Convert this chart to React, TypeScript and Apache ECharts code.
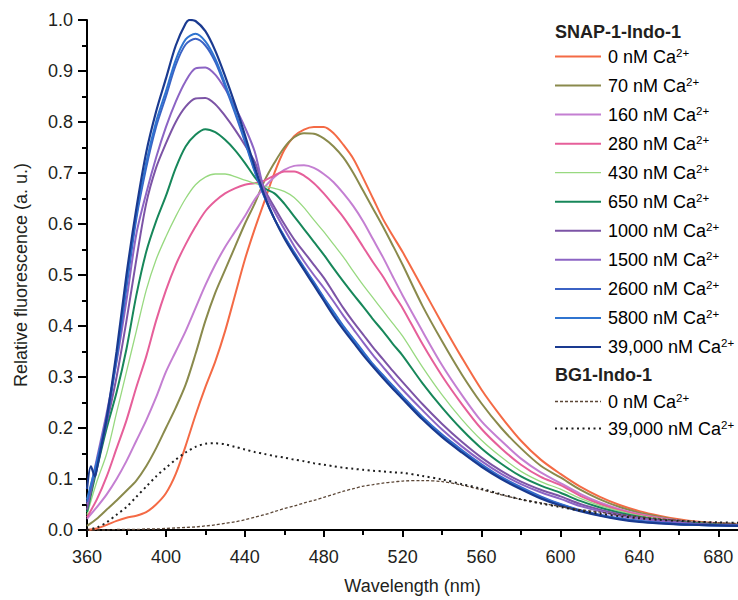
import React, { useEffect, useRef } from "react";
import * as echarts from "echarts";

// Wavelengths (nm) shared by all spectra
const WL = [
  360, 365, 370, 375, 380, 385, 390, 395, 400, 405,
  410, 415, 420, 425, 430, 435, 440, 445, 450, 455,
  460, 465, 470, 475, 480, 485, 490, 495, 500, 505,
  510, 515, 520,
  530, 540, 550, 560, 570, 580, 590, 600, 610, 620,
  630, 640, 650, 660, 670, 680, 690,
];

// SNAP-1-Indo-1 spectra (relative fluorescence)
const CA_0 = [
  0.0, 0.003, 0.01, 0.018, 0.024, 0.028, 0.035, 0.05, 0.072, 0.11,
  0.165, 0.225, 0.28, 0.33, 0.39, 0.46, 0.53, 0.59, 0.645, 0.7,
  0.745, 0.772, 0.785, 0.79, 0.79, 0.778, 0.755, 0.728, 0.69, 0.65,
  0.61, 0.577, 0.545,
  0.475, 0.405, 0.338, 0.275, 0.222, 0.175, 0.138, 0.11, 0.085, 0.065,
  0.049, 0.037, 0.028, 0.021, 0.016, 0.013, 0.011,
];
const CA_70 = [
  0.008, 0.022, 0.04, 0.058, 0.077, 0.097, 0.125, 0.16, 0.2, 0.24,
  0.285, 0.345, 0.41, 0.465, 0.51, 0.555, 0.6, 0.64, 0.685, 0.72,
  0.75, 0.77, 0.778, 0.777, 0.768, 0.752, 0.73, 0.7, 0.665, 0.63,
  0.595, 0.558, 0.52,
  0.44, 0.37, 0.305, 0.248, 0.2, 0.16, 0.126, 0.103, 0.079, 0.06,
  0.045, 0.034, 0.026, 0.019, 0.015, 0.012, 0.01,
];
const CA_160 = [
  0.022, 0.045, 0.07, 0.1, 0.135, 0.175, 0.215, 0.26, 0.31, 0.35,
  0.39, 0.435, 0.48, 0.52, 0.555, 0.585, 0.615, 0.648, 0.672, 0.692,
  0.706, 0.714, 0.715, 0.71, 0.698, 0.682, 0.66, 0.635, 0.605, 0.57,
  0.535, 0.497, 0.46,
  0.39, 0.323, 0.265, 0.213, 0.175, 0.14, 0.113, 0.092, 0.071, 0.054,
  0.041, 0.031, 0.024, 0.018, 0.014, 0.012, 0.01,
];
const CA_280 = [
  0.025, 0.06, 0.105, 0.16, 0.215, 0.28, 0.34, 0.41, 0.47, 0.52,
  0.56, 0.595, 0.625, 0.645, 0.66, 0.67, 0.677, 0.68, 0.685, 0.695,
  0.703, 0.703, 0.695, 0.68, 0.66, 0.637, 0.613, 0.585, 0.555, 0.525,
  0.497, 0.465, 0.435,
  0.365, 0.302, 0.247, 0.198, 0.16, 0.128, 0.104, 0.088, 0.067, 0.051,
  0.039, 0.03, 0.023, 0.018, 0.014, 0.011, 0.01,
];
const CA_430 = [
  0.03, 0.095, 0.15, 0.23, 0.31, 0.39, 0.47, 0.53, 0.575, 0.615,
  0.65, 0.677, 0.692, 0.698, 0.698, 0.693, 0.686, 0.68, 0.674, 0.67,
  0.664, 0.652, 0.632, 0.608, 0.585, 0.56, 0.535, 0.507, 0.48, 0.455,
  0.43, 0.405, 0.38,
  0.32, 0.265, 0.217, 0.176, 0.143, 0.115, 0.095, 0.08, 0.062, 0.048,
  0.037, 0.028, 0.022, 0.017, 0.014, 0.011, 0.01,
];
const CA_650 = [
  0.035, 0.12, 0.2, 0.27, 0.355, 0.46, 0.545, 0.605, 0.655, 0.71,
  0.752, 0.775, 0.786, 0.78, 0.765, 0.745, 0.72, 0.692, 0.67, 0.66,
  0.64, 0.615, 0.59, 0.565, 0.54, 0.513, 0.487, 0.462, 0.438, 0.413,
  0.39, 0.365, 0.342,
  0.288, 0.24, 0.197, 0.16, 0.13, 0.105, 0.087, 0.073, 0.057, 0.044,
  0.034, 0.026, 0.02, 0.016, 0.013, 0.011, 0.01,
];
const CA_1000 = [
  0.04, 0.13, 0.21, 0.3, 0.41, 0.53, 0.64, 0.71, 0.758, 0.8,
  0.83, 0.846, 0.847, 0.835, 0.812, 0.785, 0.755, 0.722, 0.668, 0.633,
  0.6, 0.57, 0.545, 0.52, 0.495, 0.465, 0.435, 0.408, 0.383, 0.358,
  0.335, 0.312, 0.29,
  0.247, 0.208, 0.173, 0.142, 0.116, 0.095, 0.079, 0.066, 0.051, 0.04,
  0.031, 0.024, 0.019, 0.015, 0.012, 0.01, 0.009,
];
const CA_1500 = [
  0.05, 0.14, 0.23, 0.33, 0.45, 0.58, 0.66, 0.73, 0.79, 0.84,
  0.88, 0.905, 0.907, 0.893, 0.865, 0.83, 0.79, 0.742, 0.664, 0.625,
  0.59, 0.557, 0.527, 0.5, 0.475, 0.448, 0.42, 0.394, 0.368, 0.343,
  0.32, 0.297, 0.275,
  0.235, 0.197, 0.164, 0.135, 0.11, 0.09, 0.074, 0.061, 0.047, 0.037,
  0.028, 0.022, 0.017, 0.014, 0.011, 0.01, 0.009,
];
const CA_2600 = [
  0.055, 0.13, 0.215, 0.335, 0.475, 0.61, 0.71, 0.79, 0.85, 0.912,
  0.952, 0.963, 0.95, 0.918, 0.87, 0.818, 0.762, 0.703, 0.652, 0.61,
  0.576, 0.545, 0.515, 0.486, 0.456, 0.428, 0.4, 0.375, 0.35, 0.325,
  0.304, 0.283, 0.262,
  0.222, 0.187, 0.157, 0.129, 0.104, 0.084, 0.066, 0.051, 0.039, 0.03,
  0.023, 0.018, 0.014, 0.012, 0.01, 0.009, 0.009,
];
const CA_5800 = [
  0.06, 0.135, 0.22, 0.34, 0.485, 0.618, 0.72, 0.8, 0.86, 0.922,
  0.962, 0.973, 0.958, 0.924, 0.875, 0.822, 0.765, 0.705, 0.653, 0.61,
  0.575, 0.543, 0.513, 0.484, 0.454, 0.426, 0.398, 0.373, 0.348, 0.323,
  0.302, 0.281, 0.26,
  0.22, 0.185, 0.155, 0.127, 0.102, 0.082, 0.064, 0.05, 0.038, 0.029,
  0.022, 0.017, 0.014, 0.011, 0.01, 0.009, 0.008,
];
const CA_39000 = [
  0.08, 0.12, 0.22, 0.35, 0.5, 0.63, 0.74, 0.82, 0.885, 0.95,
  0.993, 0.998, 0.978, 0.94, 0.89, 0.835, 0.775, 0.712, 0.655, 0.61,
  0.572, 0.54, 0.51, 0.48, 0.45, 0.42, 0.393, 0.368, 0.343, 0.32,
  0.298, 0.277, 0.257,
  0.217, 0.182, 0.152, 0.124, 0.1, 0.08, 0.062, 0.048, 0.037, 0.028,
  0.021, 0.016, 0.013, 0.011, 0.01, 0.009, 0.008,
];
const CA_39000_EXTRA: [number, number][] = [
  [362, 0.125],
  [364, 0.105],
  [412, 1.0],
];

// BG1-Indo-1 spectra
const BG_0 = [
  0.0, 0.0, 0.0, 0.001, 0.001, 0.001, 0.002, 0.002, 0.003, 0.004,
  0.005, 0.006, 0.008, 0.01, 0.013, 0.016, 0.02, 0.025, 0.03, 0.036,
  0.042, 0.047, 0.053, 0.058, 0.064, 0.07, 0.076, 0.081, 0.086, 0.089,
  0.092, 0.094, 0.096,
  0.097, 0.095, 0.088, 0.079, 0.069, 0.06, 0.053, 0.046, 0.04, 0.035,
  0.03, 0.026, 0.022, 0.019, 0.016, 0.014, 0.013,
];
const BG_39000 = [
  0.0, 0.005, 0.015, 0.03, 0.045, 0.065, 0.085, 0.105, 0.122, 0.138,
  0.152, 0.163, 0.169, 0.17, 0.168, 0.163, 0.158, 0.153, 0.149, 0.145,
  0.142, 0.138, 0.135, 0.131, 0.128, 0.125, 0.122, 0.12, 0.118, 0.116,
  0.115, 0.113, 0.112,
  0.106, 0.099, 0.09, 0.081, 0.07, 0.06, 0.052, 0.045, 0.038, 0.032,
  0.027, 0.023, 0.02, 0.018, 0.016, 0.015, 0.014,
];

const SNAP_LABELS = [
  "0 nM", "70 nM", "160 nM", "280 nM", "430 nM", "650 nM",
  "1000 nM", "1500 nM", "2600 nM", "5800 nM", "39,000 nM",
];
const BG_LABELS = ["0 nM", "39,000 nM"];
const X_MAJOR = [360, 400, 440, 480, 520, 560, 600, 640, 680];
const X_MINOR = [380, 420, 460, 500, 540, 580, 620, 660];

const FONT = '"Liberation Sans", Arial, Helvetica, sans-serif';
const INK = "#231f20";

const SNAP_STYLE = [
  { color: "#f46a45", width: 2 },
  { color: "#8a8a4c", width: 2 },
  { color: "#c47fd2", width: 2 },
  { color: "#e65f9a", width: 2 },
  { color: "#98d980", width: 1.3 },
  { color: "#17875a", width: 2 },
  { color: "#7c54a6", width: 2 },
  { color: "#8c64c4", width: 2 },
  { color: "#3b62c4", width: 2 },
  { color: "#2f74d0", width: 2 },
  { color: "#1a3a90", width: 2.2 },
];
const BG_STYLE = [
  { color: "#5b4636", width: 1.3, dash: [3, 2] },
  { color: "#1e1e1e", width: 2, dash: [2, 3.5] },
];

function pairs(values: number[]): [number, number][] {
  return WL.map((w, i) => [w, values[i]] as [number, number]);
}

export default function App() {
  const ref = useRef<HTMLDivElement>(null);

  useEffect(() => {
    if (!ref.current) return;
    const chart = echarts.init(ref.current, null, { renderer: "svg" });

    const snapValues = [
      CA_0, CA_70, CA_160, CA_280, CA_430, CA_650,
      CA_1000, CA_1500, CA_2600, CA_5800, CA_39000,
    ];

    const series: any[] = [];
    snapValues.forEach((vals, i) => {
      let data = pairs(vals);
      if (i === snapValues.length - 1) {
        data = data.concat(CA_39000_EXTRA).sort((a, b) => a[0] - b[0]);
      }
      series.push({
        type: "line",
        name: "SNAP-1-Indo-1 " + SNAP_LABELS[i] + " Ca2+",
        data,
        showSymbol: false,
        symbol: "none",
        smooth: 0.3,
        lineStyle: { color: SNAP_STYLE[i].color, width: SNAP_STYLE[i].width },
        itemStyle: { color: SNAP_STYLE[i].color },
        z: 2 + i,
      });
    });
    [BG_0, BG_39000].forEach((vals, i) => {
      series.push({
        type: "line",
        name: "BG1-Indo-1 " + BG_LABELS[i] + " Ca2+",
        data: pairs(vals),
        showSymbol: false,
        symbol: "none",
        smooth: 0.3,
        lineStyle: {
          color: BG_STYLE[i].color,
          width: BG_STYLE[i].width,
          type: BG_STYLE[i].dash,
        },
        itemStyle: { color: BG_STYLE[i].color },
        z: 20,
      });
    });

    const rich = {
      a: { fontSize: 18, fontFamily: FONT, color: INK, lineHeight: 20 },
      s: { fontSize: 11.5, fontFamily: FONT, color: INK, lineHeight: 11, verticalAlign: "top" },
    };

    const legendEls: any[] = [];
    const lx1 = 555;
    const lx2 = 601;
    const tx = 608;
    legendEls.push({
      type: "text",
      x: lx1,
      y: 32,
      style: {
        text: "SNAP-1-Indo-1",
        fontSize: 18,
        fontWeight: "bold",
        fontFamily: FONT,
        fill: INK,
        verticalAlign: "middle",
      },
    });
    SNAP_LABELS.forEach((lab, i) => {
      const y = 56.5 + i * 29.05;
      legendEls.push({
        type: "line",
        shape: { x1: lx1, y1: y, x2: lx2, y2: y },
        style: { stroke: SNAP_STYLE[i].color, lineWidth: SNAP_STYLE[i].width },
      });
      legendEls.push({
        type: "text",
        x: tx,
        y,
        style: {
          text: `{a|${lab} Ca}{s|2+}`,
          rich,
          verticalAlign: "middle",
        },
      });
    });
    legendEls.push({
      type: "text",
      x: lx1,
      y: 375,
      style: {
        text: "BG1-Indo-1",
        fontSize: 18,
        fontWeight: "bold",
        fontFamily: FONT,
        fill: INK,
        verticalAlign: "middle",
      },
    });
    BG_LABELS.forEach((lab, i) => {
      const y = 401.5 + i * 27;
      legendEls.push({
        type: "line",
        shape: { x1: lx1, y1: y, x2: lx2, y2: y },
        style: {
          stroke: BG_STYLE[i].color,
          lineWidth: BG_STYLE[i].width,
          lineDash: BG_STYLE[i].dash,
        },
      });
      legendEls.push({
        type: "text",
        x: tx,
        y,
        style: {
          text: `{a|${lab} Ca}{s|2+}`,
          rich,
          verticalAlign: "middle",
        },
      });
    });

    chart.setOption({
      animation: false,
      backgroundColor: "#ffffff",
      textStyle: { fontFamily: FONT },
      grid: { left: 87, right: 0, top: 20, bottom: 65, containLabel: false },
      xAxis: [
        {
          type: "value",
          min: 360,
          max: 690,
          interval: 40,
          position: "bottom",
          name: "Wavelength (nm)",
          nameLocation: "middle",
          nameGap: 47,
          nameTextStyle: { fontSize: 18, color: INK, fontFamily: FONT },
          axisLine: { show: true, lineStyle: { color: "#000", width: 2 } },
          axisTick: {
            show: true,
            length: 7,
            customValues: X_MAJOR,
            lineStyle: { color: "#000", width: 2 },
          },
          axisLabel: {
            customValues: X_MAJOR,
            fontSize: 18,
            color: INK,
            margin: 18,
            fontFamily: FONT,
          },
          splitLine: { show: false },
        },
        {
          type: "value",
          min: 360,
          max: 690,
          interval: 40,
          position: "bottom",
          axisLine: { show: false },
          axisTick: {
            show: true,
            length: 5,
            customValues: X_MINOR,
            lineStyle: { color: "#000", width: 2 },
          },
          axisLabel: { show: false },
          splitLine: { show: false },
        },
      ],
      yAxis: {
        type: "value",
        min: 0,
        max: 1,
        interval: 0.1,
        name: "Relative fluorescence (a. u.)",
        nameLocation: "middle",
        nameGap: 57,
        nameTextStyle: { fontSize: 18, color: INK, fontFamily: FONT },
        axisLine: { show: true, lineStyle: { color: "#000", width: 2 } },
        axisTick: { show: true, length: 9, lineStyle: { color: "#000", width: 2 } },
        minorTick: { show: true, splitNumber: 2, length: 5, lineStyle: { color: "#000", width: 2 } },
        axisLabel: {
          fontSize: 18,
          color: INK,
          margin: 14,
          fontFamily: FONT,
          formatter: (v: number) => v.toFixed(1),
        },
        splitLine: { show: false },
        minorSplitLine: { show: false },
      },
      series,
      graphic: { elements: [{ type: "group", silent: true, children: legendEls }] },
    });

    return () => chart.dispose();
  }, []);

  return (
    <div
      ref={ref}
      style={{ position: "absolute", left: 0, top: 0, width: 738, height: 600, background: "#fff" }}
    />
  );
}
